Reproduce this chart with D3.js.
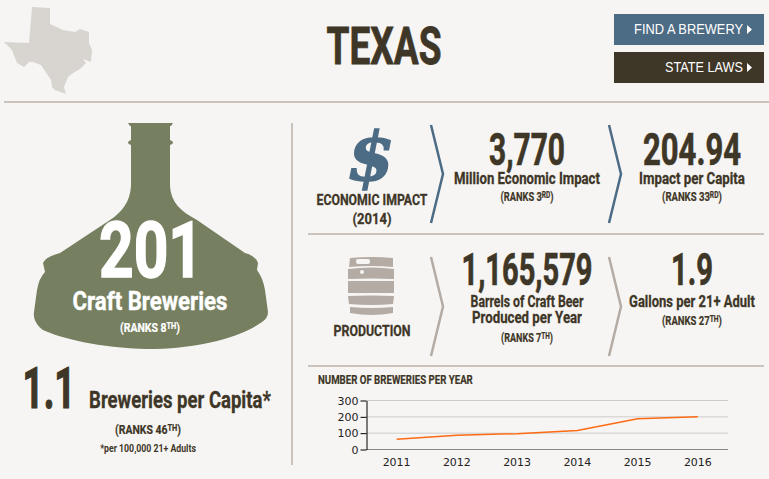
<!DOCTYPE html>
<html><head><meta charset="utf-8">
<script src="https://cdnjs.cloudflare.com/ajax/libs/d3/7.8.5/d3.min.js"></script>
<style>html,body{margin:0;padding:0;background:#f6f5f3;overflow:hidden}svg{display:block}</style>
</head><body><svg id="c" width="769" height="479"></svg>
<script>
const years=[2011,2012,2013,2014,2015,2016];
const breweries=[62,87,97,117,188,201];
const yTicks=[0,100,200,300];
const texasOutline=[[32,7],[50,8],[50,24],[63,30],[75,32],[80,29],[89,32],[89,43],[92,50],[91,62],[83,59],[86,63],[80,69],[73,73],[68,77],[66,82],[64,87],[66,94],[55,90],[52,87],[51,80],[41,65],[33,62],[29,62],[24,67],[17,63],[12,50],[4,42],[29,43]];
const bottleOutline="M128,123H173L171,126H170V140Q173,141 173,142.5Q173,144 170,145V186C171,202 180,211 197,220L245,253Q256,256 258,263L257,270Q263,278 265,290L268,312Q268,318 262,322C240,338 195,349 147,349C100,348 60,338 43,330C36,325 33,318 34,312L37,290Q39,278 45,272L43,263Q45,257 60,253L110,220C122,212 130,202 131,186V145Q128,144 128,142.5Q128,141 131,140V126H130Z";
const ink="#3e3627",blue="#4c6b85",tan="#b3aba4",rule="#c9c3bc",sans="Roboto, 'Liberation Sans', sans-serif";
const svg=d3.select("#c");
function fit(t,x,y,width){
  const n=t.node().getComputedTextLength();
  t.attr("transform",`translate(${x},${y}) scale(${width/n},1)`);
  return t;
}
function txt(x,y,s,size,width,opts={}){
  const t=svg.append("text").attr("text-anchor",opts.anchor||"middle")
   .attr("font-family",opts.family||sans).attr("font-weight",opts.weight||700).attr("font-size",size)
   .attr("fill",opts.fill||ink).text(s);
  if(opts.bold) t.attr("stroke",opts.fill||ink).attr("stroke-width",opts.bold);
  return fit(t,x,y,width);
}
function ranks(x,y,pre,sup,w,fill){
  const t=svg.append("text").attr("text-anchor","middle").attr("font-family",sans).attr("font-weight",700)
    .attr("font-size",12).attr("fill",fill||ink).attr("stroke",fill||ink).attr("stroke-width",0.2);
  t.append("tspan").text(pre);
  t.append("tspan").text(sup).attr("font-size",8.5).attr("dy",-3);
  t.append("tspan").text(")").attr("dy",3);
  fit(t,x,y,w);
}
function hr(x1,x2,y,h=2){svg.append("rect").attr("x",x1).attr("y",y).attr("width",x2-x1).attr("height",h).attr("fill",rule);}
// header
svg.append("path").attr("d",d3.line().curve(d3.curveLinearClosed)(texasOutline)).attr("fill","#d8d5d1");
hr(4,769,101);
svg.append("rect").attr("x",291).attr("y",123).attr("width",2).attr("height",342).attr("fill",rule);
txt(384,64,"TEXAS",52,115,{bold:0.8});
svg.append("rect").attr("x",614).attr("y",14).attr("width",150).attr("height",31).attr("fill",blue);
svg.append("rect").attr("x",614).attr("y",52).attr("width",150).attr("height",31).attr("fill","#3e3627");
txt(743,34,"FIND A BREWERY",14,109,{fill:"#fff",weight:400,anchor:"end",family:"'Liberation Sans',sans-serif"});
txt(743,72,"STATE LAWS",14,78,{fill:"#fff",weight:400,anchor:"end",family:"'Liberation Sans',sans-serif"});
svg.append("path").attr("d","M747,25l5,4.5l-5,4.5zM747,63l5,4.5l-5,4.5z").attr("fill","#fff");
// bottle
svg.append("path").attr("d",bottleOutline).attr("fill","#768060");
txt(151,277,"201",78,104,{fill:"#fff",bold:1.5});
txt(150,310,"Craft Breweries",26,155,{fill:"#fff",bold:0.4});
ranks(150,332,"(RANKS 8","TH",60,"#fff");
txt(49,408,"1.1",58,53,{bold:1.2});
txt(180,408,"Breweries per Capita*",23,182,{bold:0.3});
ranks(148,434,"(RANKS 46","TH",66);
txt(148,452,"*per 100,000 21+ Adults",10,96);
// economic
svg.append("text").attr("x",371).attr("y",180).attr("text-anchor","middle").attr("font-family","'DejaVu Serif',serif").attr("font-weight",700).attr("font-style","italic").attr("font-size",68).attr("fill",blue).attr("stroke",blue).attr("stroke-width",1.5).text("$");
txt(372,205,"ECONOMIC IMPACT",15.5,111,{bold:0.3});
txt(372,224,"(2014)",15.5,39,{bold:0.3});
const chev=(x,y1,y2,c)=>svg.append("path").attr("d",`M${x},${y1}L${x+12},${(y1+y2)/2}L${x},${y2}`).attr("fill","none").attr("stroke",c).attr("stroke-width",2.5);
chev(431,125,223,blue); chev(609,125,223,blue);
txt(527,165,"3,770",44,76,{bold:0.7});
txt(527,184,"Million Economic Impact",16.5,146,{bold:0.3});
ranks(527,201,"(RANKS 3","RD",53);
txt(692,165,"204.94",44,98,{bold:0.7});
txt(692,184,"Impact per Capita",16.5,106,{bold:0.3});
ranks(692,201,"(RANKS 33","RD",60);
hr(308,764,233);
// production
const keg=svg.append("g").attr("fill",tan);
keg.append("path").attr("d","M350,258Q372,256 393,258L393,267Q372,265 349,267Z");
keg.append("path").attr("d","M348,269Q372,266 394,269L394,279Q372,278 348,279Z");
keg.append("path").attr("d","M348,281H394V293H348Z");
keg.append("path").attr("d","M348,296Q372,295 394,296L393,304Q372,306 349,304Z");
keg.append("path").attr("d","M350,307Q372,309 393,307L393,313Q372,317 350,313Z");
svg.append("rect").attr("x",356).attr("y",259).attr("width",14).attr("height",5).attr("rx",2).attr("fill","#f6f5f3");
svg.append("circle").attr("cx",362).attr("cy",272).attr("r",2).attr("fill","#f6f5f3");
txt(372,336,"PRODUCTION",15.5,77,{bold:0.3});
chev(431,257,356,tan); chev(609,257,356,tan);
txt(527,285,"1,165,579",44,131,{bold:0.7});
txt(527,307,"Barrels of Craft Beer",16.5,113,{bold:0.3});
txt(527,323,"Produced per Year",16.5,110,{bold:0.3});
ranks(527,342,"(RANKS 7","TH",52);
txt(692,285,"1.9",44,42,{bold:0.7});
txt(692,307,"Gallons per 21+ Adult",16.5,126,{bold:0.3});
ranks(692,325,"(RANKS 27","TH",60);
hr(308,764,365);
// chart
txt(318,384,"NUMBER OF BREWERIES PER YEAR",12.5,155,{anchor:"start",bold:0.2});
const x=d3.scaleBand().domain(years).range([366.5,728]);
const y=d3.scaleLinear().domain([0,300]).range([449.5,400.5]);
const g=svg.append("g");
g.selectAll("line.g").data(yTicks.slice(1)).join("line").attr("x1",366.5).attr("x2",728).attr("y1",d=>y(d)).attr("y2",d=>y(d)).attr("stroke","#ccc").attr("stroke-width",1);
g.append("line").attr("x1",366.5).attr("x2",728).attr("y1",y(0)).attr("y2",y(0)).attr("stroke","#888");
const ya=g.append("g").attr("transform","translate(366.5,0)").call(d3.axisLeft(y).tickValues(yTicks).tickSize(6).tickPadding(2).tickSizeOuter(0));
ya.select(".domain").attr("stroke","#000");ya.selectAll("line").attr("stroke","#000");
ya.selectAll("text").attr("font-family","'DejaVu Sans',sans-serif").attr("font-size",11).attr("fill","#222");
const xa=g.append("g").attr("transform","translate(0,449.5)").call(d3.axisBottom(x).tickSize(0).tickPadding(9));
xa.select(".domain").remove();
xa.selectAll("text").attr("font-family","'DejaVu Sans',sans-serif").attr("font-size",11).attr("fill","#222");
g.append("path").datum(breweries).attr("fill","none").attr("stroke","#ff6a13").attr("stroke-width",1.5)
 .attr("d",d3.line().x((d,i)=>x(years[i])+x.bandwidth()/2).y(d=>y(d)));
</script></body></html>
